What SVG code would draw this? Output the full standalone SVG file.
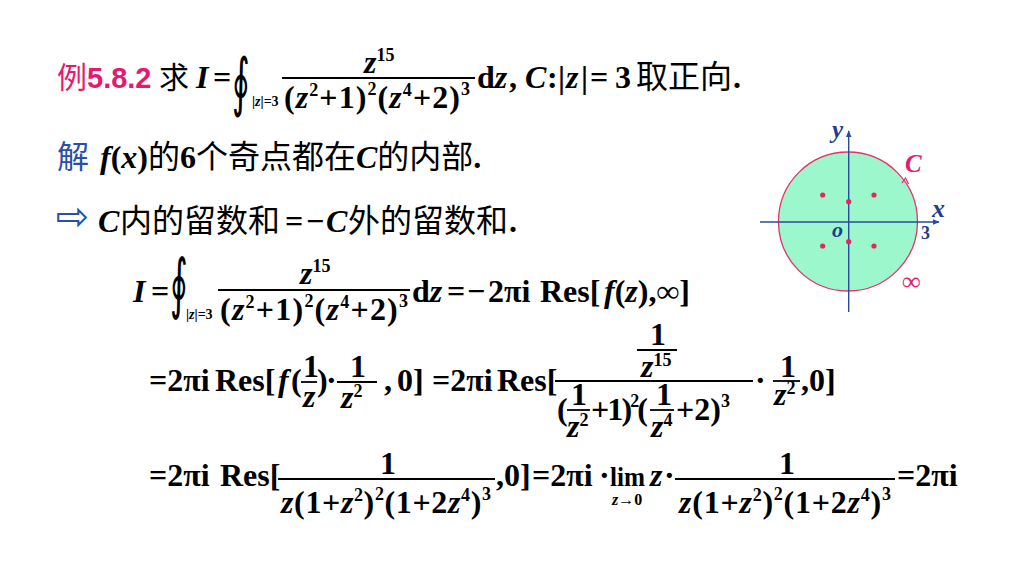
<svg xmlns="http://www.w3.org/2000/svg" width="1024" height="576" viewBox="0 0 1024 576">
<defs>
<style>
.m{font-family:"Liberation Serif","Times New Roman",serif;font-weight:bold;font-size:32px;fill:#000}
.i{font-style:italic}
.cn{font-family:"Noto Sans CJK SC","Noto Sans",sans-serif;font-size:32px;font-weight:normal;font-style:normal;fill:#000}
.sup{font-size:18px}
.sub{font-size:14px}
.bar{stroke:#000;stroke-width:1.8}
.int{font-family:"DejaVu Serif",serif;font-weight:normal;font-size:40px;fill:#000}
.pk{fill:#e6196e}
.bl{fill:#2a4fa6}
.dk{fill:#1f3d8f}
.ax{stroke:#2a4a9c;stroke-width:1.4;fill:none}
.dot{fill:#e8245e}
</style>
<marker id="ah" viewBox="0 0 10 10" refX="9" refY="5" markerWidth="7" markerHeight="7" orient="auto" markerUnits="userSpaceOnUse">
<path d="M0,1 L10,5 L0,9 Z" fill="#2a4a9c"/>
</marker>
</defs>
<rect width="1024" height="576" fill="#fff"/>

<g id="row1">
<text class="cn pk" x="57" y="88" style="font-size:30px">例</text>
<text x="87" y="88" class="pk" style="font-family:'Liberation Sans',Arial,sans-serif;font-weight:bold;font-size:29px">5.8.2</text>
<text class="cn" x="159" y="88" style="font-size:30px">求</text>
<text class="m i" x="196" y="88">I</text>
<text class="m" x="213" y="88">=</text>
<text class="int" transform="translate(232,104) scale(0.85,1.6)">∮</text>
<text class="m sub" x="252" y="106">|<tspan class="i">z</tspan>|=3</text>
<line class="bar" x1="282" y1="78" x2="475" y2="78"/>
<text class="m" x="364" y="73"><tspan class="i">z</tspan><tspan class="sup" dy="-12">15</tspan></text>
<text class="m" x="284" y="108" textLength="186" lengthAdjust="spacing">(<tspan class="i">z</tspan><tspan class="sup" dy="-12">2</tspan><tspan dy="12">+1)</tspan><tspan class="sup" dy="-13">2</tspan><tspan dy="13">(</tspan><tspan class="i">z</tspan><tspan class="sup" dy="-12">4</tspan><tspan dy="12">+2)</tspan><tspan class="sup" dy="-13">3</tspan></text>
<text class="m" x="477" y="88">d<tspan class="i">z</tspan></text>
<text class="m" x="509" y="88">,</text>
<text class="m i" x="525" y="88">C</text>
<text class="m" x="547" y="88">:</text>
<text class="m" x="558" y="88">|</text>
<text class="m i" x="566" y="88">z</text>
<text class="m" x="581" y="88">|</text>
<text class="m" x="590" y="88">=</text>
<text class="m" x="615" y="88">3</text>
<text class="cn" x="636" y="88">取正向</text>
<text class="m" x="733" y="88">.</text>
</g>

<g id="row2">
<text class="cn bl" x="57" y="168">解</text>
<text class="m" x="100" y="168"><tspan class="i">f</tspan>(<tspan class="i">x</tspan>)<tspan class="cn">的</tspan>6<tspan class="cn">个奇点都在</tspan><tspan class="i">C</tspan><tspan class="cn">的内部</tspan>.</text>
</g>

<g id="row3">
<text x="56" y="230" class="bl" style="font-family:'DejaVu Sans',sans-serif;font-size:40px">⇨</text>
<text class="m i" x="98" y="232">C</text>
<text class="cn" x="120" y="232">内的留数和</text>
<text class="m" x="285" y="232">=</text>
<text class="m" x="306" y="232">−</text>
<text class="m i" x="326" y="232">C</text>
<text class="cn" x="348" y="232">外的留数和</text>
<text class="m" x="509" y="232">.</text>
</g>

<g id="row4">
<text class="m i" x="133" y="302">I</text>
<text class="m" x="151" y="302">=</text>
<text class="int" transform="translate(170,306) scale(0.85,1.65)">∮</text>
<text class="m sub" x="186" y="319">|<tspan class="i">z</tspan>|=3</text>
<line class="bar" x1="218" y1="290" x2="410" y2="290"/>
<text class="m" x="300" y="284"><tspan class="i">z</tspan><tspan class="sup" dy="-12">15</tspan></text>
<text class="m" x="220" y="320" textLength="188" lengthAdjust="spacing">(<tspan class="i">z</tspan><tspan class="sup" dy="-12">2</tspan><tspan dy="12">+1)</tspan><tspan class="sup" dy="-13">2</tspan><tspan dy="13">(</tspan><tspan class="i">z</tspan><tspan class="sup" dy="-12">4</tspan><tspan dy="12">+2)</tspan><tspan class="sup" dy="-13">3</tspan></text>
<text class="m" x="412" y="302">d<tspan class="i">z</tspan></text>
<text class="m" x="447" y="302">=</text>
<text class="m" x="467" y="302">−</text>
<text class="m" x="488" y="302">2πi</text>
<text class="m" x="540" y="302">Res[</text>
<text class="m" x="604" y="302"><tspan class="i">f</tspan>(<tspan class="i">z</tspan>),∞]</text>
</g>

<g id="row5">
<text class="m" x="149" y="391">=2πi</text>
<text class="m" x="215" y="391">Res[</text>
<text class="m i" x="278" y="391">f</text>
<text class="m" x="291" y="391">(</text>
<text class="m" x="303" y="377">1</text>
<line class="bar" x1="301" y1="382" x2="317" y2="382"/>
<text class="m i" x="303" y="407">z</text>
<text class="m" x="317" y="391">)</text>
<text class="m" x="326" y="391">·</text>
<text class="m" x="350" y="377">1</text>
<line class="bar" x1="337" y1="382" x2="377" y2="382"/>
<text class="m" x="341" y="408"><tspan class="i">z</tspan><tspan class="sup" dy="-11">2</tspan></text>
<text class="m" x="384" y="391">,</text>
<text class="m" x="397" y="391">0]</text>
<text class="m" x="432" y="391">=2πi</text>
<text class="m" x="497" y="391">Res[</text>
<line class="bar" x1="555" y1="381" x2="753" y2="381"/>
<text class="m" x="650" y="345">1</text>
<line class="bar" x1="637" y1="350" x2="677" y2="350"/>
<text class="m" x="641" y="377"><tspan class="i">z</tspan><tspan class="sup" dy="-11">15</tspan></text>
<text class="m" x="557" y="420">(</text>
<text class="m" x="571" y="405">1</text>
<line class="bar" x1="567" y1="410" x2="590" y2="410"/>
<text class="m" x="567" y="437"><tspan class="i">z</tspan><tspan class="sup" dy="-11">2</tspan></text>
<text class="m" x="591" y="420" textLength="57" lengthAdjust="spacing">+1)<tspan class="sup" dy="-13">2</tspan><tspan dy="13">(</tspan></text>
<text class="m" x="656" y="405">1</text>
<line class="bar" x1="650" y1="410" x2="674" y2="410"/>
<text class="m" x="651" y="437"><tspan class="i">z</tspan><tspan class="sup" dy="-11">4</tspan></text>
<text class="m" x="676" y="420">+2)<tspan class="sup" dy="-13">3</tspan></text>
<text class="m" x="755" y="391">·</text>
<text class="m" x="780" y="377">1</text>
<line class="bar" x1="773" y1="381" x2="800" y2="381"/>
<text class="m" x="774" y="405"><tspan class="i">z</tspan><tspan class="sup" dy="-11">2</tspan></text>
<text class="m" x="801" y="391">,0]</text>
</g>

<g id="row6">
<text class="m" x="149" y="486">=2πi</text>
<text class="m" x="220" y="486">Res[</text>
<line class="bar" x1="278" y1="479" x2="495" y2="479"/>
<text class="m" x="380" y="474">1</text>
<text class="m" x="281" y="513" textLength="210" lengthAdjust="spacing"><tspan class="i">z</tspan>(1+<tspan class="i">z</tspan><tspan class="sup" dy="-12">2</tspan><tspan dy="12">)</tspan><tspan class="sup" dy="-13">2</tspan><tspan dy="13">(1+2</tspan><tspan class="i">z</tspan><tspan class="sup" dy="-12">4</tspan><tspan dy="12">)</tspan><tspan class="sup" dy="-13">3</tspan></text>
<text class="m" x="496" y="486">,0]</text>
<text class="m" x="532" y="486">=2πi</text>
<text class="m" x="599" y="486">·</text>
<text class="m" x="610" y="486" style="font-size:28px" textLength="35" lengthAdjust="spacingAndGlyphs">lim</text>
<text class="m" x="612" y="505" style="font-size:16px"><tspan class="i">z</tspan>→0</text>
<text class="m i" x="650" y="486">z</text>
<text class="m" x="664" y="486">·</text>
<line class="bar" x1="675" y1="479" x2="895" y2="479"/>
<text class="m" x="779" y="474">1</text>
<text class="m" x="679" y="513" textLength="212" lengthAdjust="spacing"><tspan class="i">z</tspan>(1+<tspan class="i">z</tspan><tspan class="sup" dy="-12">2</tspan><tspan dy="12">)</tspan><tspan class="sup" dy="-13">2</tspan><tspan dy="13">(1+2</tspan><tspan class="i">z</tspan><tspan class="sup" dy="-12">4</tspan><tspan dy="12">)</tspan><tspan class="sup" dy="-13">3</tspan></text>
<text class="m" x="897" y="486">=2πi</text>
</g>

<g id="figure">
<circle cx="848" cy="221.5" r="69.5" fill="#9cf7cc" stroke="#e8306a" stroke-width="1.3"/>
<g id="axes">
<line class="ax" x1="760" y1="222" x2="939" y2="222" marker-end="url(#ah)"/>
<line class="ax" x1="848.7" y1="312" x2="848.7" y2="131" marker-end="url(#ah)"/>
</g>
<path d="M902,183 L905.5,178 L908.5,184" fill="none" stroke="#e8306a" stroke-width="1.3"/>
<circle class="dot" cx="822.7" cy="195" r="2.6"/>
<circle class="dot" cx="874" cy="195" r="2.6"/>
<circle class="dot" cx="848.7" cy="201.7" r="2.6"/>
<circle class="dot" cx="848.7" cy="241.7" r="2.6"/>
<circle class="dot" cx="822.7" cy="246" r="2.6"/>
<circle class="dot" cx="874" cy="246" r="2.6"/>
<text class="m i dk" x="832" y="138" style="font-size:25px">y</text>
<text class="m i dk" x="932" y="217" style="font-size:26px">x</text>
<text class="m i pk" x="905" y="172" style="font-size:25px">C</text>
<text class="m i dk" x="832" y="237" style="font-size:22px">o</text>
<text class="m dk" x="921" y="239" style="font-size:18px">3</text>
<text class="m pk" x="902" y="290" style="font-size:26px">∞</text>
</g>
</svg>
